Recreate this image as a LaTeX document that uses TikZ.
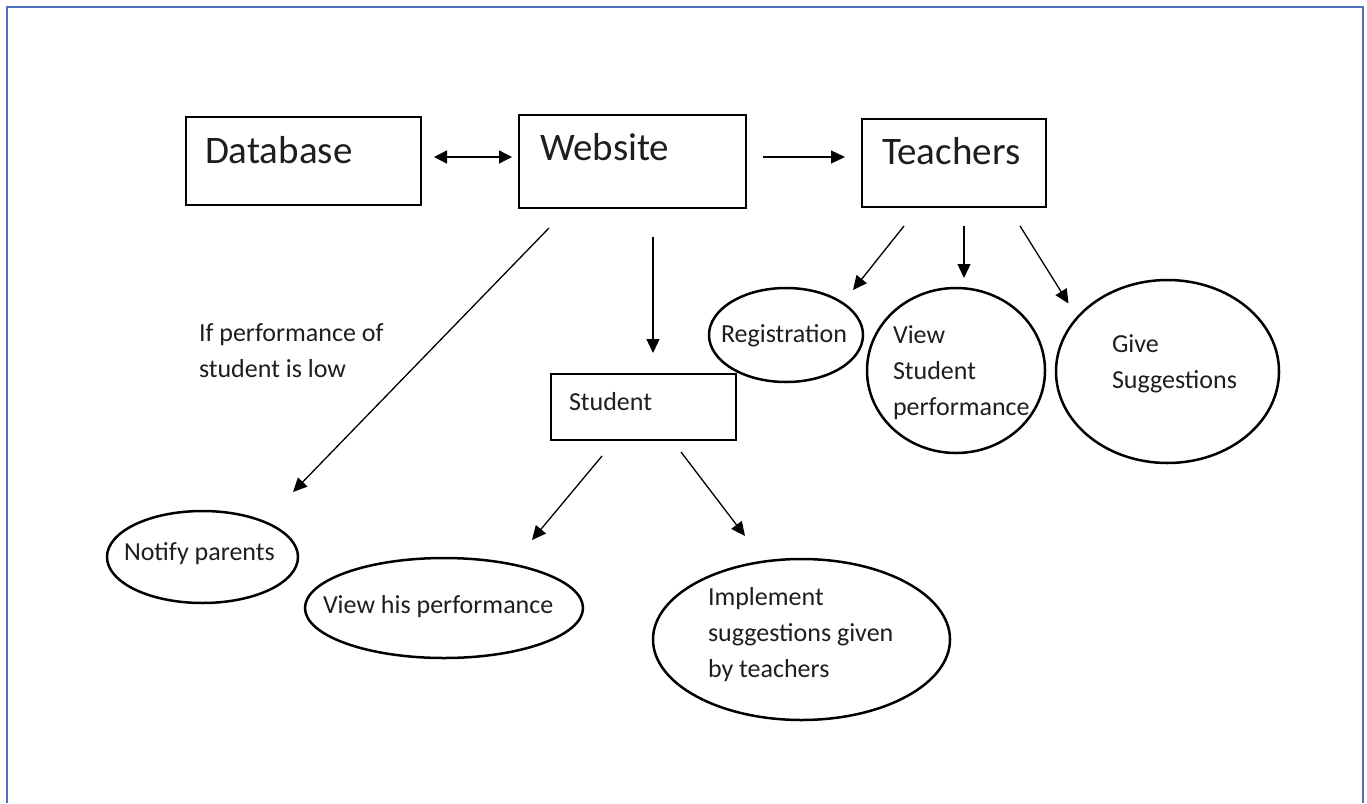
\documentclass[tikz,border=0pt]{standalone}
\usepackage{fontspec}
\setmainfont{Carlito}
\usetikzlibrary{shapes.geometric,arrows.meta,calc}
\definecolor{framecol}{RGB}{79,113,190}
\definecolor{inkcol}{RGB}{30,30,30}
\begin{document}
\begin{tikzpicture}[x=1pt,y=-1pt,
  box/.style={draw=black, line width=1.4pt, rectangle, inner sep=0pt, outer sep=0pt, anchor=north west},
  oval/.style={draw=black, line width=2.5pt, ellipse, inner sep=0pt, outer sep=0pt},
  small/.style={font=\fontsize{26pt}{36pt}\selectfont, text=inkcol, inner sep=0pt, outer sep=0pt},
  big/.style={font=\fontsize{39pt}{47pt}\selectfont, text=inkcol, inner sep=0pt, outer sep=0pt},
  arr/.style={line width=1.3pt, -{Triangle[length=14pt,width=13pt]}},
  darr/.style={line width=1.3pt, {Triangle[length=13pt,width=13pt]}-{Triangle[length=13pt,width=13pt]}},
]
\useasboundingbox (0,0) rectangle (1367,803);
\fill[white] (0,0) rectangle (1367,803);
\draw[framecol, line width=2pt] (7,803) -- (7,7) -- (1363,7) -- (1363,803);

% boxes
\node[box, minimum width=235pt, minimum height=88pt,
  label={[big, anchor=base west, xshift=19pt, yshift=-46pt]north west:Database}] (db) at (186,117) {};
\node[box, minimum width=227pt, minimum height=93pt,
  label={[big, anchor=base west, xshift=21pt, yshift=-45pt]north west:Website}] (web) at (519,115) {};
\node[box, minimum width=184pt, minimum height=88pt,
  label={[big, anchor=base west, xshift=20pt, yshift=-45pt]north west:Teachers}] (tea) at (862,119) {};
\node[box, minimum width=185pt, minimum height=66pt,
  label={[small, anchor=base west, xshift=18pt, yshift=-36pt]north west:Student}] (st) at (551,374) {};

% ellipses
\node[oval, minimum width=191pt, minimum height=92pt,
  label={[small, anchor=base west, xshift=-78.5pt, yshift=-49pt]north:Notify parents}] (np) at (202.5,557) {};
\node[oval, minimum width=278pt, minimum height=100pt,
  label={[small, anchor=base west, xshift=-121pt, yshift=-55pt]north:View his performance}] (vhp) at (444,608) {};
\node[oval, minimum width=297pt, minimum height=161pt,
  label={[small, align=left, anchor=north west, xshift=-93.5pt, yshift=-28pt]north:Implement\\suggestions given\\by teachers}] (impl) at (801.5,639.5) {};
\node[oval, minimum width=154pt, minimum height=94pt,
  label={[small, anchor=base west, xshift=-65pt, yshift=-54pt]north:Registration}] (reg) at (786,335) {};
\node[oval, minimum width=178pt, minimum height=165pt,
  label={[small, align=left, anchor=north west, xshift=-63pt, yshift=-38pt]north:View\\Student\\performance}] (vsp) at (956,370.5) {};
\node[oval, minimum width=223pt, minimum height=183pt,
  label={[small, align=left, anchor=north west, xshift=-55.5pt, yshift=-55pt]north:Give\\Suggestions}] (gs) at (1167.5,371.5) {};

% free text
\node[small, align=left, anchor=north west] (cond) at (199,324) {If performance of\\student is low};

% connectors
\draw[darr] ($(db.north east)+(13,40)$) -- ($(web.north west)+(-7,42)$);
\draw[arr] ($(web.north east)+(17,42)$) -- ($(tea.north west)+(-17,38)$);
\draw[arr] ($(web.south west)+(134,29)$) -- ($(st.north west)+(102,-21)$);
\draw[arr] ($(web.south west)+(30,20)$) -- ($(np.center)+(90.5,-65)$);
\draw[arr] ($(st.south west)+(51,16)$) -- ($(vhp.center)+(88,-68)$);
\draw[arr] ($(st.south west)+(130,12)$) -- ($(impl.center)+(-56.5,-103.5)$);
\draw[arr] ($(tea.south west)+(42,19)$) -- ($(reg.center)+(67,-45)$);
\draw[arr] ($(tea.south west)+(102,19)$) -- ($(vsp.center)+(8,-92.5)$);
\draw[arr] ($(tea.south west)+(158,19)$) -- ($(gs.center)+(-99,-68)$);
\end{tikzpicture}
\end{document}
